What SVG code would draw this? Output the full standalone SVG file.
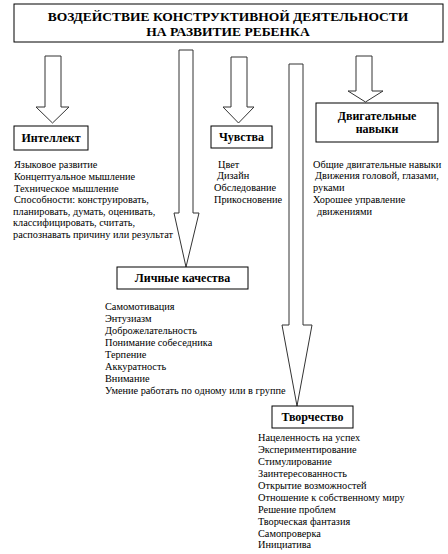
<svg xmlns="http://www.w3.org/2000/svg" width="448" height="554" viewBox="0 0 448 554" font-family="'Liberation Serif', 'Times New Roman', serif">
<style>
  .box { fill: #fff; stroke: #000; stroke-width: 1; }
  .arrow { fill: #fff; stroke: #333; stroke-width: 1; }
  .title { font-weight: bold; font-size: 13.5px; fill: #000; text-anchor: middle; }
  .label { font-weight: bold; font-size: 12px; fill: #000; text-anchor: middle; }
  .item { font-size: 10.3px; fill: #000; }
</style>
<rect width="448" height="554" fill="#fff"/>
<g id="connectors">
  <polygon class="arrow" points="45,56 61,56 61,107 69,107 52.5,123 36,107 45,107"/>
  <polygon class="arrow" points="179,50 193,50 193,213 199,213 186,267 174,213 179,213"/>
  <polygon class="arrow" points="231,57 247,57 247,107 254,107 238.5,123 223,107 231,107"/>
  <polygon class="arrow" points="289,64 303,64 303,325 312,325 297,406 282,325 289,325"/>
  <polygon class="arrow" points="356,56 372,56 372,91 383,91 365.5,102 348,91 356,91"/>
</g>
<g id="title">
  <rect class="box" x="14" y="4" width="429" height="38"/>
  <text class="title" x="228" y="21">ВОЗДЕЙСТВИЕ КОНСТРУКТИВНОЙ ДЕЯТЕЛЬНОСТИ</text>
  <text class="title" x="228" y="36">НА РАЗВИТИЕ РЕБЕНКА</text>
</g>
<g id="intellect">
  <rect class="box" x="14" y="126" width="74" height="24"/>
  <text class="label" x="51" y="142">Интеллект</text>
  <text class="item" x="14" y="168">Языковое развитие</text>
  <text class="item" x="14" y="180">Концептуальное мышление</text>
  <text class="item" x="14" y="191.5">Техническое мышление</text>
  <text class="item" x="14" y="203">Способности: конструировать,</text>
  <text class="item" x="13" y="214.5">планировать, думать, оценивать,</text>
  <text class="item" x="13" y="226">классифицировать, считать,</text>
  <text class="item" x="13" y="237.5">распознавать причину или результат</text>
</g>
<g id="feelings">
  <rect class="box" x="211" y="126" width="61" height="22"/>
  <text class="label" x="241.5" y="141">Чувства</text>
  <text class="item" x="218" y="167.5">Цвет</text>
  <text class="item" x="217" y="179">Дизайн</text>
  <text class="item" x="214" y="190.5">Обследование</text>
  <text class="item" x="214" y="202.5">Прикосновение</text>
</g>
<g id="motor">
  <rect class="box" x="316" y="103" width="122" height="39"/>
  <text class="label" x="377" y="120">Двигательные</text>
  <text class="label" x="377" y="133">навыки</text>
  <text class="item" x="313" y="167.5">Общие двигательные навыки</text>
  <text class="item" x="315" y="179">Движения головой, глазами,</text>
  <text class="item" x="313" y="190.5">руками</text>
  <text class="item" x="313" y="202.5">Хорошее управление</text>
  <text class="item" x="317" y="215">движениями</text>
</g>
<g id="personal">
  <rect class="box" x="117" y="267" width="131" height="22"/>
  <text class="label" x="182.5" y="282">Личные качества</text>
  <text class="item" x="105" y="309.5">Самомотивация</text>
  <text class="item" x="105" y="321.5">Энтузиазм</text>
  <text class="item" x="105" y="333.5">Доброжелательность</text>
  <text class="item" x="105" y="345.5">Понимание собеседника</text>
  <text class="item" x="105" y="357.5">Терпение</text>
  <text class="item" x="105" y="369.5">Аккуратность</text>
  <text class="item" x="105" y="381.5">Внимание</text>
  <text class="item" x="105" y="393.5">Умение работать по одному или в группе</text>
</g>
<g id="creativity">
  <rect class="box" x="272" y="406" width="81" height="22"/>
  <text class="label" x="312.5" y="421">Творчество</text>
  <text class="item" x="258" y="440.5">Нацеленность на успех</text>
  <text class="item" x="258" y="452.5">Экспериментирование</text>
  <text class="item" x="258" y="464.5">Стимулирование</text>
  <text class="item" x="258" y="476.5">Заинтересованность</text>
  <text class="item" x="258" y="488.5">Открытие возможностей</text>
  <text class="item" x="258" y="500.5">Отношение к собственному миру</text>
  <text class="item" x="258" y="512.5">Решение проблем</text>
  <text class="item" x="258" y="524.5">Творческая фантазия</text>
  <text class="item" x="258" y="536.5">Самопроверка</text>
  <text class="item" x="258" y="548">Инициатива</text>
</g>
</svg>
